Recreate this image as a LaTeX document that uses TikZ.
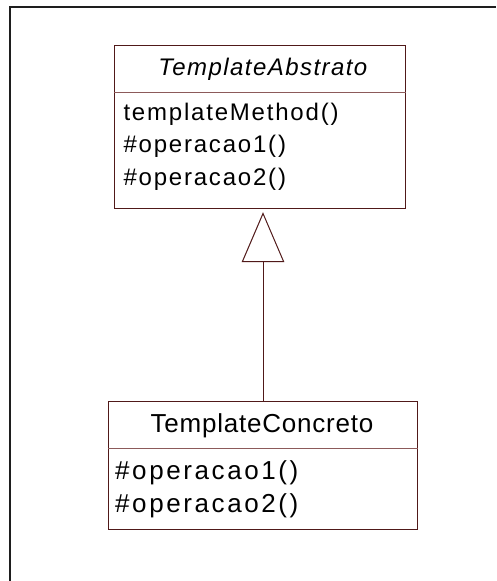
\documentclass[tikz,border=0pt]{standalone}
\usepackage{fontspec}
\setmainfont{Liberation Sans}
\newfontfamily\topfont[LetterSpace=7.5]{Liberation Sans}
\newfontfamily\toptitle[LetterSpace=6]{Liberation Sans}
\newfontfamily\botops[LetterSpace=10]{Liberation Sans}
\newfontfamily\bottitle[LetterSpace=3]{Liberation Sans}
\usetikzlibrary{arrows.meta,calc}
\definecolor{boxcol}{RGB}{80,25,25}
\definecolor{divcol}{RGB}{140,90,90}
\definecolor{framecol}{RGB}{30,30,30}
\tikzset{
  umlbox/.style={draw=boxcol, line width=1pt, rectangle, inner sep=0pt},
  divline/.style={draw=divcol, line width=1pt},
  toptxt/.style={inner sep=0pt, font=\topfont\fontsize{24}{28}\selectfont},
  toptitletxt/.style={inner sep=0pt, anchor=base, font=\toptitle\itshape\fontsize{24}{28}\selectfont},
  bottxt/.style={inner sep=0pt, font=\botops\fontsize{26}{30}\selectfont},
  bottitletxt/.style={inner sep=0pt, anchor=base, font=\bottitle\fontsize{26}{30}\selectfont},
  genline/.style={draw=boxcol, line width=1pt, -{Triangle[open, length=50pt, width=42.6pt]}, shorten >=3pt},
}
\begin{document}
\begin{tikzpicture}[x=1pt,y=-1pt]
\useasboundingbox (0,0) rectangle (496,581);
% frame
\draw[framecol, line width=1.8pt] (10.3,581) -- (10.3,7.3) -- (496,7.3);
% abstract class
\node[umlbox, minimum width=291.4pt, minimum height=163.4pt] (abs) at (260,127) {};
\draw[divline] ($(abs.north west)+(0,47.4)$) -- ($(abs.north east)+(0,47.4)$);
\node[toptitletxt] (absname) at (262.9,75.3) {TemplateAbstrato};
\node[toptxt, anchor=base west] (m1) at (123.3,120) {templateMethod()};
\node[toptxt, anchor=base west] (m2) at (123.3,152.7) {\#operacao1()};
\node[toptxt, anchor=base west] (m3) at (123.3,185) {\#operacao2()};
% concrete class
\node[umlbox, minimum width=308.3pt, minimum height=127.3pt] (conc) at (263,465.35) {};
\draw[divline] ($(conc.north west)+(0,47.3)$) -- ($(conc.north east)+(0,47.3)$);
\node[bottitletxt] (concname) at (262,432.7) {TemplateConcreto};
\node[bottxt, anchor=base west] (c1) at (115,479.3) {\#operacao1()};
\node[bottxt, anchor=base west] (c2) at (115,512.7) {\#operacao2()};
% generalization
\draw[genline] (conc.north) -- (conc.north |- abs.south);
\end{tikzpicture}
\end{document}
